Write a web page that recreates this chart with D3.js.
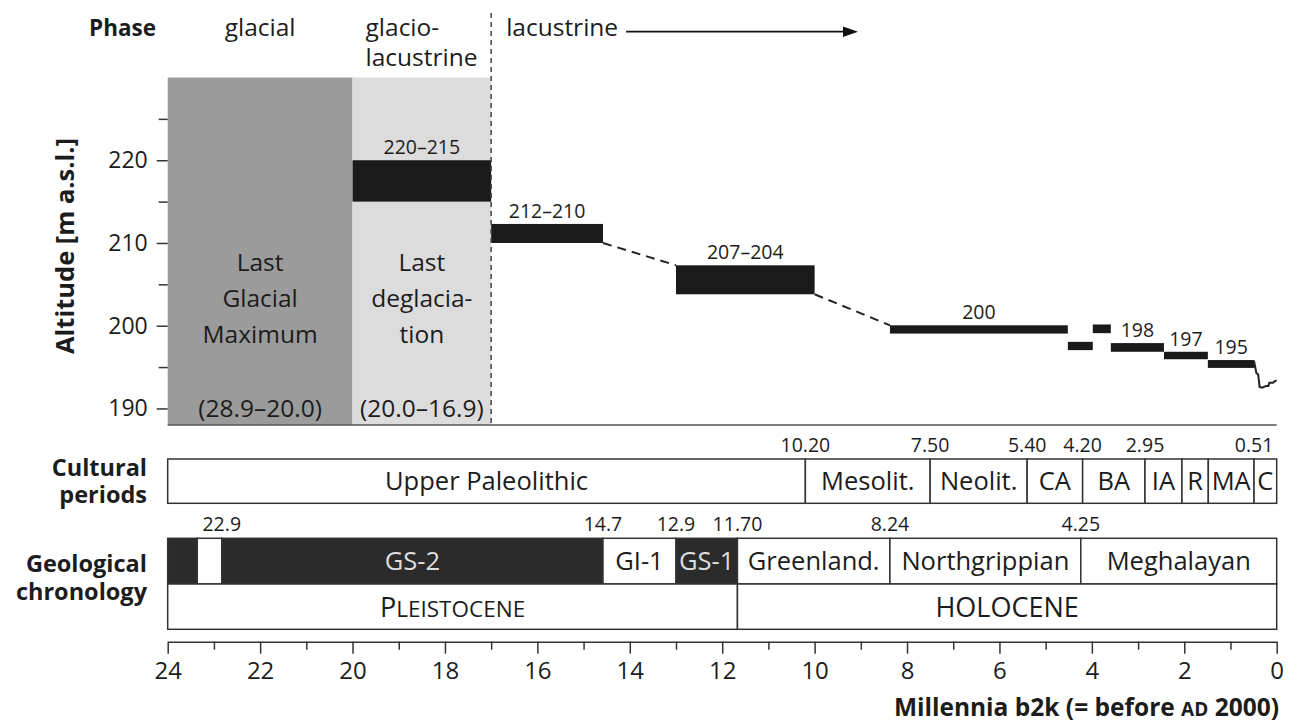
<!DOCTYPE html>
<html>
<head>
<meta charset="utf-8">
<script src="https://cdn.jsdelivr.net/npm/d3@7"></script>
<style>
  html, body { margin: 0; padding: 0; background: #fff; }
  svg { display: block; font-family: "Open Sans", "Noto Sans", sans-serif; }
</style>
</head>
<body>
<svg id="chart" width="1298" height="723"></svg>
<script>
// ---------------- DATA ----------------
const phaseNames = ["glacial", "glacio-|lacustrine", "lacustrine"];
const phaseBoxStart = [24, 20];
const phaseBoxEnd = [20, 17];
const phaseBoxLines = [["Last", "Glacial", "Maximum"], ["Last", "deglacia-", "tion"]];
const phaseBoxRange = ["(28.9–20.0)", "(20.0–16.9)"];
const lacustrineStart = 17.0;

const levelStart  = [20.0, 17.0, 13.0, 8.37, 4.52, 3.98, 3.59, 2.44, 1.49];
const levelEnd    = [17.0, 14.58, 10.0, 4.52, 3.98, 3.59, 2.44, 1.49, 0.48];
const levelTop    = [220, 212.3, 207.3, 200.05, 198.05, 200.15, 197.9, 196.85, 195.85];
const levelBottom = [215, 210.0, 203.8, 199.05, 197.05, 199.1, 196.85, 195.95, 194.9];
const levelLabels = ["220–215", "212–210", "207–204", "200", "", "", "198", "197", "195"];
const dashedLinks = [[[14.58, 210.0], [13.0, 207.3]], [[10.0, 203.8], [8.37, 200.05]]];
const recentLevel = [[0.49, 195.7], [0.44, 194.3], [0.40, 194.1], [0.37, 192.6], [0.32, 192.5],
                     [0.23, 192.7], [0.18, 192.7], [0.16, 193.1], [0.08, 193.1], [0.04, 193.3], [0.0, 193.4]];

const culturalNames = ["Upper Paleolithic", "Mesolit.", "Neolit.", "CA", "BA", "IA", "R", "MA", "C"];
const culturalStart = [24, 10.2, 7.5, 5.4, 4.2, 2.85, 2.05, 1.48, 0.49];
const culturalEnd   = [10.2, 7.5, 5.4, 4.2, 2.85, 2.05, 1.48, 0.49, 0];
const culturalTickLabels = ["10.20", "7.50", "5.40", "4.20", "2.95", "0.51"];
const culturalTickPos    = [10.2, 7.5, 5.4, 4.2, 2.85, 0.49];

const stageNames = ["", "", "GS-2", "GI-1", "GS-1", "Greenland.", "Northgrippian", "Meghalayan"];
const stageType  = ["stadial", "interstadial", "stadial", "interstadial", "stadial", "age", "age", "age"];
const stageStart = [24, 23.36, 22.83, 14.58, 13.0, 11.67, 8.37, 4.24];
const stageEnd   = [23.36, 22.83, 14.58, 13.0, 11.67, 8.37, 4.24, 0];
const geoTickLabels = ["22.9", "14.7", "12.9", "11.70", "8.24", "4.25"];
const geoTickPos    = [22.83, 14.58, 13.0, 11.67, 8.37, 4.24];

const epochNames = ["PLEISTOCENE", "HOLOCENE"];
const epochStart = [24, 11.67];
const epochEnd   = [11.67, 0];

const xMajorTicks = [24, 22, 20, 18, 16, 14, 12, 10, 8, 6, 4, 2, 0];
const xMinorTicks = [23, 21, 19, 17, 15, 13, 11, 9, 7, 5, 3, 1];
const yMajorTicks = [190, 200, 210, 220];
const yMinorTicks = [195, 205, 215, 225];

// ---------------- LAYOUT ----------------
const svg = d3.select("#chart");
const ink = "#1c1c1c";
const x = d3.scaleLinear().domain([24, 0]).range([167.7, 1276.7]);
const y = d3.scaleLinear().domain([188, 230]).range([425, 77.5]);

function multiline(xp, y0, lines, gap, opts) {
  const t = svg.append("text").attr("x", xp).attr("y", y0)
    .attr("text-anchor", opts.anchor || "start").attr("font-size", opts.size)
    .attr("font-weight", opts.weight || "normal").attr("fill", ink);
  lines.forEach((s, k) => {
    t.append("tspan").attr("x", xp).attr("y", y0 + k * gap).text(s);
  });
  return t;
}

// phase background boxes
const boxFill = ["#9b9b9b", "#dcdcdc"];
phaseBoxStart.forEach((s, i) => {
  svg.append("rect").attr("x", x(s)).attr("y", y(230))
    .attr("width", x(phaseBoxEnd[i]) - x(s)).attr("height", y(188) - y(230))
    .attr("fill", boxFill[i]);
  const cx = (x(s) + x(phaseBoxEnd[i])) / 2;
  multiline(cx, 271, phaseBoxLines[i], 36, { anchor: "middle", size: 24.5 });
  svg.append("text").attr("x", cx).attr("y", 417)
    .attr("text-anchor", "middle").attr("font-size", 24.5).attr("fill", ink).text(phaseBoxRange[i]);
});

// level bars
levelStart.forEach((s, i) => {
  svg.append("rect").attr("x", x(s)).attr("y", y(levelTop[i]))
    .attr("width", x(levelEnd[i]) - x(s)).attr("height", y(levelBottom[i]) - y(levelTop[i]))
    .attr("fill", "#1a1a1a");
  if (levelLabels[i]) {
    svg.append("text").attr("x", (x(s) + x(levelEnd[i])) / 2).attr("y", y(levelTop[i]) - 6)
      .attr("text-anchor", "middle").attr("font-size", 19.5).attr("fill", ink).text(levelLabels[i]);
  }
});
const line = d3.line().x(d => x(d[0])).y(d => y(d[1]));
dashedLinks.forEach(seg => {
  svg.append("path").attr("d", line(seg)).attr("fill", "none")
    .attr("stroke", "#222").attr("stroke-width", 2).attr("stroke-dasharray", "9,6");
});
svg.append("path").attr("d", line(recentLevel)).attr("fill", "none")
  .attr("stroke", "#222").attr("stroke-width", 2);

// lacustrine dashed divider
svg.append("line").attr("x1", x(lacustrineStart)).attr("x2", x(lacustrineStart))
  .attr("y1", 13).attr("y2", 425).attr("stroke", "#444").attr("stroke-width", 1.5)
  .attr("stroke-dasharray", "5,4");

// plot bottom line
svg.append("line").attr("x1", x(24)).attr("x2", x(0)).attr("y1", 425).attr("y2", 425)
  .attr("stroke", "#555").attr("stroke-width", 1.5);

// phase header
svg.append("text").attr("x", 156).attr("y", 36).attr("text-anchor", "end")
  .attr("font-size", 22.5).attr("font-weight", "bold").attr("fill", ink).text("Phase");
svg.append("text").attr("x", (x(24) + x(20)) / 2).attr("y", 36).attr("text-anchor", "middle")
  .attr("font-size", 24.5).attr("fill", ink).text(phaseNames[0]);
multiline(x(20) + 13, 36, phaseNames[1].split("|"), 30, { size: 24.5 });
const lacT = svg.append("text").attr("x", x(lacustrineStart) + 15).attr("y", 36)
  .attr("font-size", 24.5).attr("fill", ink).text(phaseNames[2]);
const lacEnd = x(lacustrineStart) + 15 + lacT.node().getComputedTextLength() + 8;
svg.append("line").attr("x1", lacEnd).attr("x2", 845).attr("y1", 31.7).attr("y2", 31.7)
  .attr("stroke", "#111").attr("stroke-width", 1.8);
svg.append("path").attr("d", "M843,26.5 L858,31.7 L843,36.9 Z").attr("fill", "#111");

// y axis
const yAxis = svg.append("g").attr("transform", `translate(${x(24)},0)`)
  .call(d3.axisLeft(y).tickValues(yMajorTicks).tickSize(11).tickPadding(9).tickSizeOuter(0));
yAxis.select(".domain").remove();
yAxis.selectAll("text").attr("font-size", 23).attr("font-family", "Open Sans").attr("fill", ink);
yAxis.selectAll("line").attr("stroke", "#333").attr("stroke-width", 1.5);
const yMinor = svg.append("g").attr("transform", `translate(${x(24)},0)`)
  .call(d3.axisLeft(y).tickValues(yMinorTicks).tickSize(9).tickFormat(""));
yMinor.select(".domain").remove();
yMinor.selectAll("line").attr("stroke", "#333").attr("stroke-width", 1.5);

svg.append("text").attr("transform", `translate(74,246) rotate(-90)`)
  .attr("text-anchor", "middle").attr("font-size", 25.5).attr("font-weight", "bold")
  .attr("fill", ink).text("Altitude [m a.s.l.]");

// cultural periods row
const cTop = 459, cBot = 503.3;
culturalStart.forEach((s, i) => {
  svg.append("rect").attr("x", x(s)).attr("y", cTop)
    .attr("width", x(culturalEnd[i]) - x(s)).attr("height", cBot - cTop)
    .attr("fill", "#fff").attr("stroke", "#333").attr("stroke-width", 1.5);
  svg.append("text").attr("x", (x(s) + x(culturalEnd[i])) / 2).attr("y", 490)
    .attr("text-anchor", "middle").attr("font-size", 25.5).attr("fill", ink).text(culturalNames[i]);
});
culturalTickPos.forEach((p, i) => {
  svg.append("text").attr("x", x(p)).attr("y", 451.5).attr("text-anchor", "middle")
    .attr("font-size", 19.5).attr("fill", ink).text(culturalTickLabels[i]);
});
multiline(147, 475.5, ["Cultural", "periods"], 27, { anchor: "end", size: 23.5, weight: "bold" });

// geological chronology rows
const gTop = 538.3, gMid = 584, gBot = 629.3;
stageStart.forEach((s, i) => {
  const dark = stageType[i] === "stadial";
  svg.append("rect").attr("x", x(s)).attr("y", gTop)
    .attr("width", x(stageEnd[i]) - x(s)).attr("height", gMid - gTop)
    .attr("fill", dark ? "#2b2b2b" : "#fff").attr("stroke", "#333").attr("stroke-width", 1.5);
  if (stageNames[i]) {
    svg.append("text").attr("x", (x(s) + x(stageEnd[i])) / 2).attr("y", 569.5)
      .attr("text-anchor", "middle").attr("font-size", 25.5)
      .attr("fill", dark ? "#dedede" : ink).text(stageNames[i]);
  }
});
epochStart.forEach((s, i) => {
  svg.append("rect").attr("x", x(s)).attr("y", gMid)
    .attr("width", x(epochEnd[i]) - x(s)).attr("height", gBot - gMid)
    .attr("fill", "#fff").attr("stroke", "#333").attr("stroke-width", 1.5);
});
// PLEISTOCENE in small caps, HOLOCENE in caps
const ep0 = svg.append("text").attr("x", (x(epochStart[0]) + x(epochEnd[0])) / 2).attr("y", 616.5)
  .attr("text-anchor", "middle").attr("fill", ink);
ep0.append("tspan").attr("font-size", 27).text(epochNames[0].slice(0, 1));
ep0.append("tspan").attr("font-size", 22.5).text(epochNames[0].slice(1));
svg.append("text").attr("x", (x(epochStart[1]) + x(epochEnd[1])) / 2).attr("y", 616.5)
  .attr("text-anchor", "middle").attr("font-size", 27).attr("fill", ink).text(epochNames[1]);

geoTickPos.forEach((p, i) => {
  svg.append("text").attr("x", x(p)).attr("y", 530.5).attr("text-anchor", "middle")
    .attr("font-size", 19.5).attr("fill", ink).text(geoTickLabels[i]);
});
multiline(147, 571.5, ["Geological", "chronology"], 28, { anchor: "end", size: 23.5, weight: "bold" });

// x axis
const axY = 641.7;
const xAxis = svg.append("g").attr("transform", `translate(0,${axY})`)
  .call(d3.axisBottom(x).tickValues(xMajorTicks).tickSize(12).tickPadding(8).tickSizeOuter(0));
xAxis.select(".domain").attr("stroke", "#333").attr("stroke-width", 1.5);
xAxis.selectAll("line").attr("stroke", "#333").attr("stroke-width", 1.5);
xAxis.selectAll("text").attr("font-size", 24).attr("font-family", "Open Sans").attr("fill", ink);
const xMinor = svg.append("g").attr("transform", `translate(0,${axY})`)
  .call(d3.axisBottom(x).tickValues(xMinorTicks).tickSize(8).tickFormat(""));
xMinor.select(".domain").remove();
xMinor.selectAll("line").attr("stroke", "#333").attr("stroke-width", 1.5);

const xt = svg.append("text").attr("x", 1279).attr("y", 716).attr("text-anchor", "end")
  .attr("font-size", 24.5).attr("font-weight", "bold").attr("fill", ink);
xt.append("tspan").text("Millennia b2k (= before ");
xt.append("tspan").attr("font-size", 19).text("AD");
xt.append("tspan").text(" 2000)");
</script>
</body>
</html>
